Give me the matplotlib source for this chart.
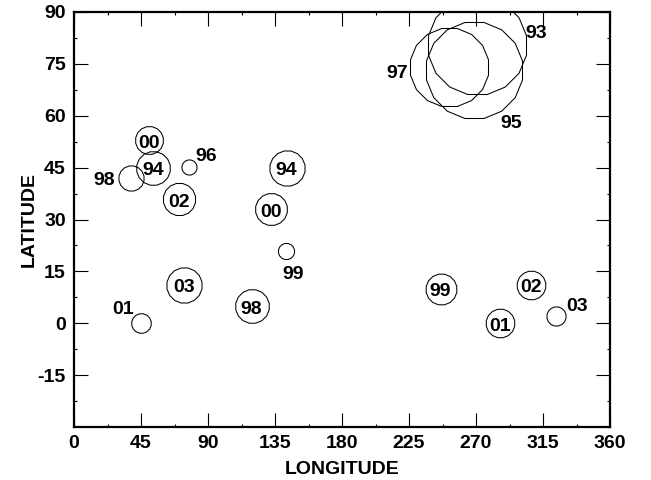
import matplotlib
matplotlib.use("Agg")
import matplotlib.pyplot as plt
from matplotlib.ticker import MultipleLocator
import numpy as np

plt.rcParams['axes.unicode_minus'] = False

# ---- data ----
years = ['00', '94', '98', '96', '02', '00', '94', '99', '03', '98', '01',
         '99', '02', '01', '03', '93', '97', '95']
lon = [50.4, 53.3, 38.3, 77.2, 70.5, 132.3, 142.8, 142.4, 74.1, 119.3, 45.2,
       246.2, 306.7, 286.1, 323.7, 271.0, 252.0, 268.8]
lat = [52.9, 45.0, 42.1, 45.2, 35.8, 32.9, 45.0, 21.0, 11.1, 4.9, 0.0,
       10.0, 11.1, 0.0, 2.0, 80.5, 74.0, 73.1]
ring_size = [13.8, 16.7, 12.5, 7.5, 16.0, 15.8, 17.5, 8.0, 17.5, 16.7, 9.7,
             15.3, 14.2, 14.2, 9.5, 49.0, 39.0, 48.0]

xticks = [0, 45, 90, 135, 180, 225, 270, 315, 360]
yticks = [-15, 0, 15, 30, 45, 60, 75, 90]

# ---- style: label offsets (pixels) for labels drawn outside the rings ----
outside_offsets = {2: (-27, 0), 3: (17, 13), 7: (7, -21), 10: (-18, 17),
                   14: (21, 13), 15: (59, 14), 16: (-52, -3), 17: (37, -50)}

DPI = 100
fig = plt.figure(figsize=(6.51, 4.80), dpi=DPI)
ax = fig.add_axes([74 / 651, 53 / 480, 536 / 651, 415 / 480])

FONT = dict(family='Liberation Sans', weight='bold')
FS = 14

px2pt = 72.0 / DPI
for i in range(len(years)):
    R = ring_size[i] / np.cos(np.pi / 16)
    ms = 2 * R * px2pt
    ax.plot(lon[i], lat[i], linestyle='none',
            marker=(16, 0, 11.25), markersize=ms,
            markerfacecolor='none', markeredgecolor='black',
            markeredgewidth=0.75, clip_on=True)
    dx, dy = outside_offsets.get(i, (0, 0))
    ax.annotate(years[i], (lon[i], lat[i]), xytext=(dx, dy - 1),
                textcoords='offset pixels', ha='center',
                va='center_baseline',
                fontsize=FS, **FONT, annotation_clip=False)

ax.set_xlim(0, 360)
ax.set_ylim(-30, 90)
ax.set_xticks(xticks)
ax.set_yticks(yticks)
ax.xaxis.set_minor_locator(MultipleLocator(22.5))
ax.yaxis.set_minor_locator(MultipleLocator(7.5))
ax.tick_params(which='major', direction='in', length=10, width=0.8,
               top=True, right=True, labelsize=FS, pad=6)
ax.tick_params(which='minor', direction='in', length=2.2, width=0.8,
               top=True, right=True)
ax.tick_params(axis='y', which='major', pad=6)
for lab in ax.get_xticklabels() + ax.get_yticklabels():
    lab.set_fontfamily('Liberation Sans')
    lab.set_fontweight('bold')
for s in ax.spines.values():
    s.set_linewidth(1.6)

ax.set_xlabel('LONGITUDE', fontsize=FS, labelpad=6, **FONT)
ax.set_ylabel('LATITUDE', fontsize=FS, labelpad=0, **FONT)

fig.savefig('out.png', dpi=DPI)
